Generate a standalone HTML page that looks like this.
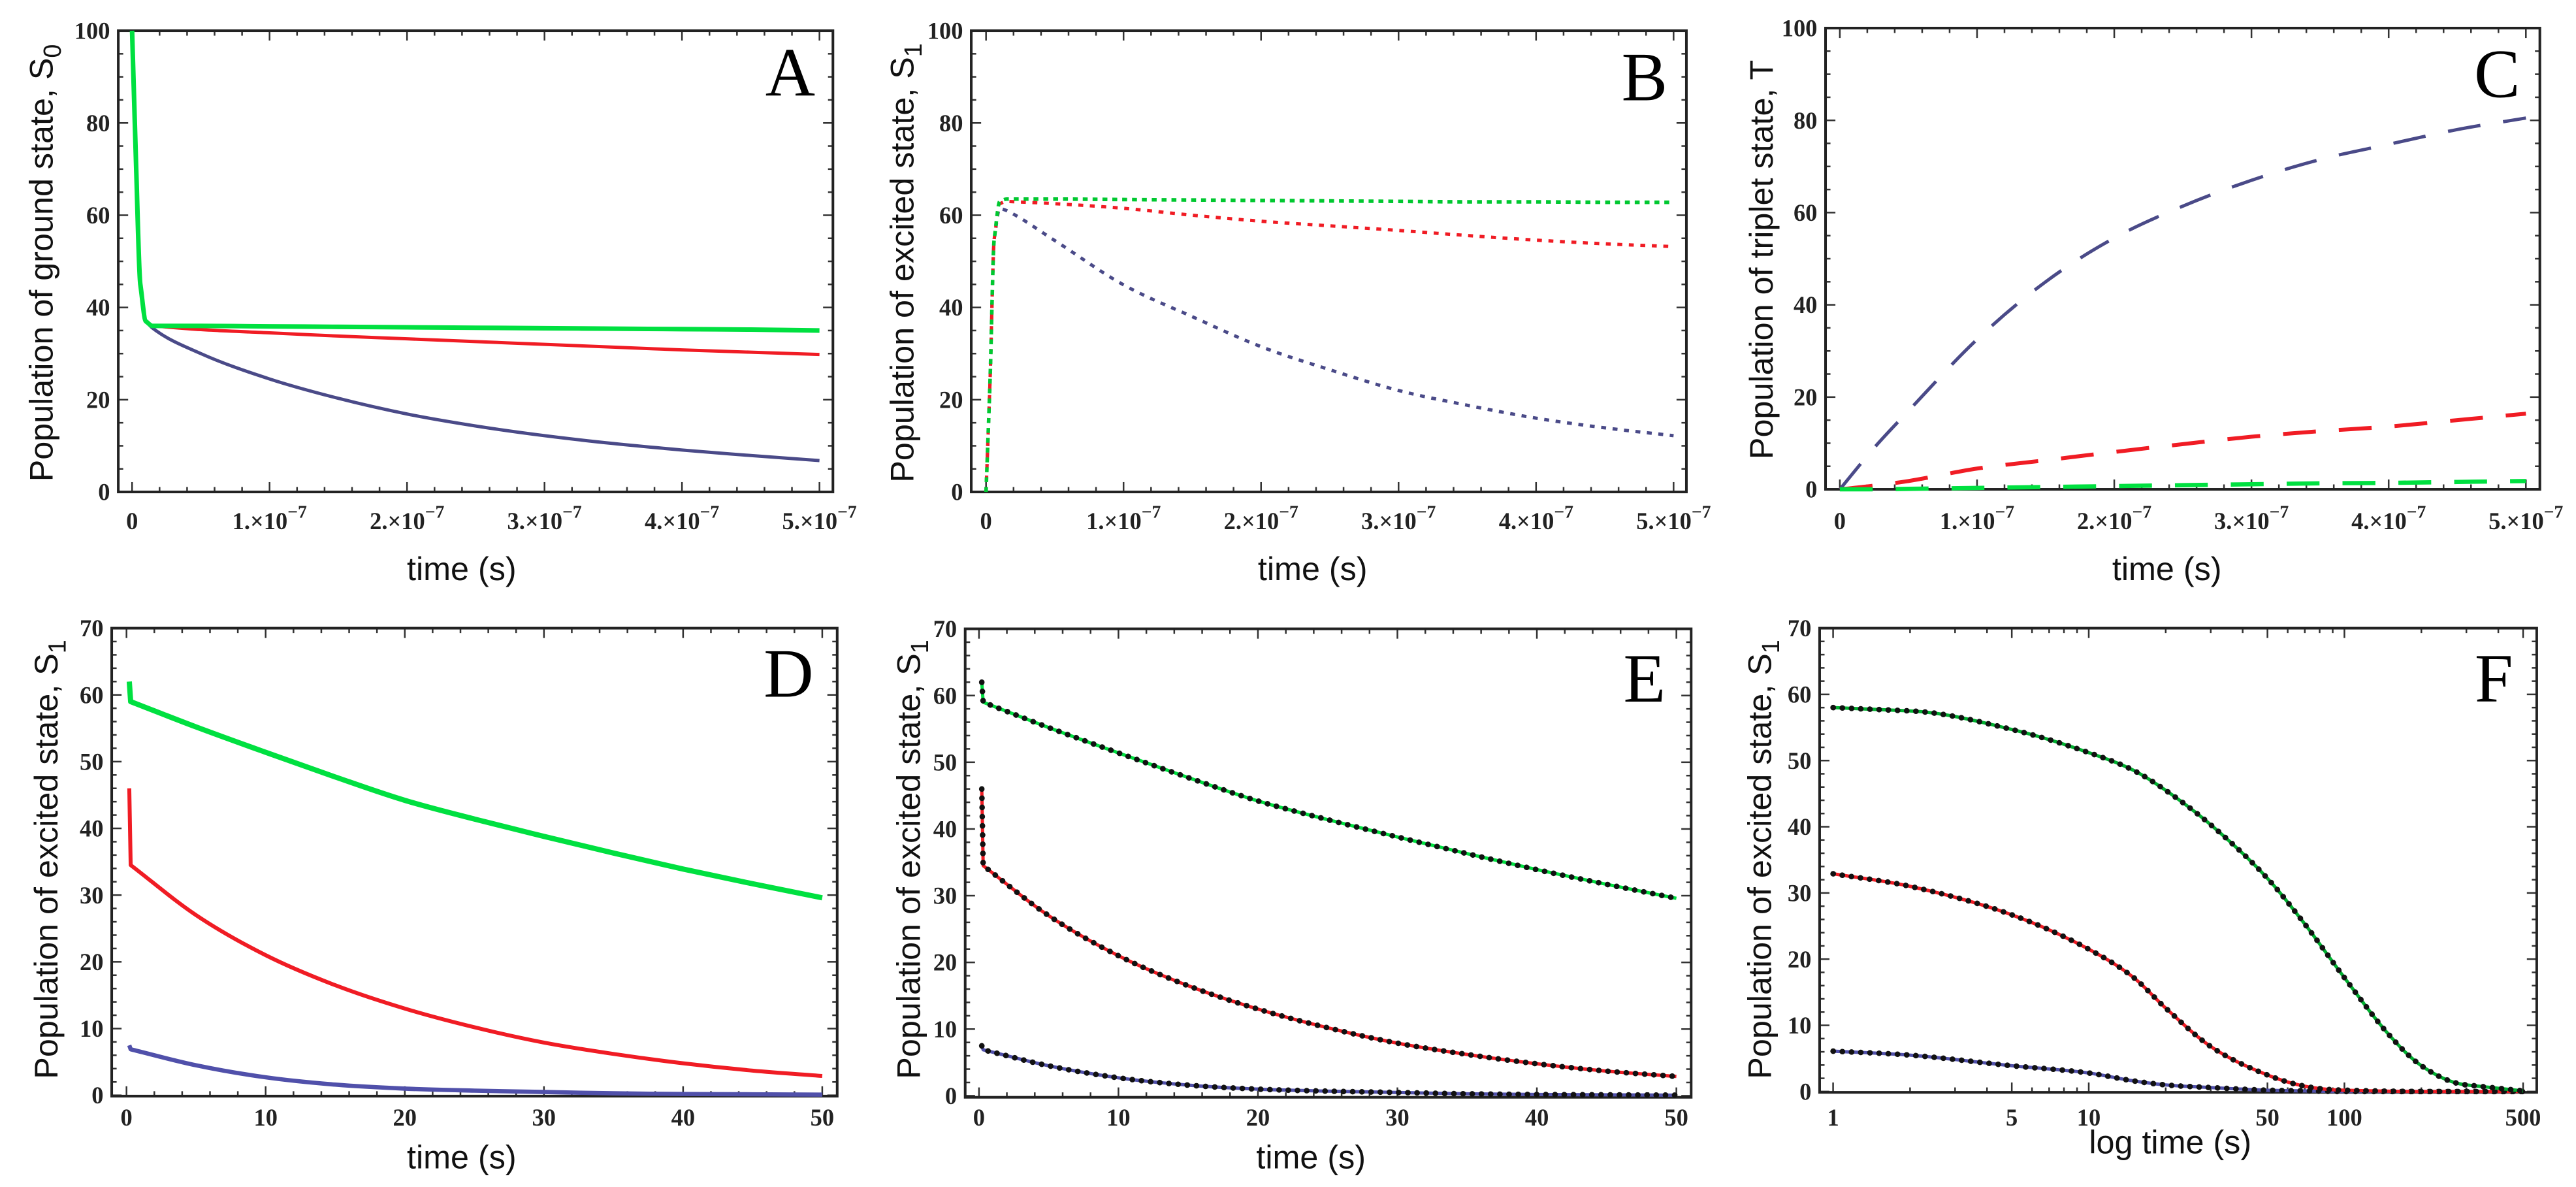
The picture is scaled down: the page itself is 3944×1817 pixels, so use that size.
<!DOCTYPE html>
<html><head><meta charset="utf-8"><style>
html,body{margin:0;padding:0;background:#fff;}
svg{display:block;}
text{font-family:"Liberation Sans",sans-serif;}
.tick{font-family:"Liberation Serif",serif;font-weight:bold;font-size:14.5px;fill:#222;}
.lab{font-size:20px;fill:#111;}
.let{font-family:"Liberation Serif",serif;font-size:42px;fill:#000;}
</style></head><body>
<svg id="fig" width="3944" height="1817" viewBox="0 0 1568 722.4" preserveAspectRatio="none" xmlns="http://www.w3.org/2000/svg"></svg>
<script>
// ---- data (time in units of 1e-7 s for top row) ----
const tA=[0,0.03,0.06,0.1,0.15,0.5,1,1.5,2,2.5,3,3.5,4,4.5,5];
const greenA=[100,70,45,37,36,36,35.9,35.8,35.7,35.6,35.5,35.4,35.3,35.2,35.0];
const redA=[100,70,45,37,36,35.2,34.5,33.8,33.2,32.6,32,31.4,30.8,30.3,29.8];
const blueA=[100,70,45,37,35.5,30,24.5,20.3,16.9,14.3,12.2,10.5,9.1,7.9,6.8];
const tB=[0,0.03,0.06,0.1,0.15,0.5,1,1.5,2,2.5,3,3.5,4,4.5,5];
const greenB=[0,25,55,63,63.5,63.5,63.4,63.3,63.2,63.1,63,62.9,62.9,62.8,62.8];
const redB=[0,25,55,62.5,63,62.5,61.5,60,58.7,57.7,56.7,55.6,54.6,53.8,53.2];
const blueB=[0,25,55,61.5,61,54.5,44.9,38,31.5,26.5,22,18.8,16,13.9,12.2];
const tC=[0,0.25,0.5,1,1.5,2,2.5,3,3.5,4,4.5,5];
const blueC=[0,9,17,32.5,45,54.5,61.4,67,71.5,74.8,78,80.5];
const redC=[0,0.8,1.8,4.5,6.3,8.1,9.8,11.4,12.6,13.6,15,16.4];
const greenC=[0,0,0.1,0.3,0.5,0.7,0.9,1.1,1.3,1.4,1.6,1.8];
const tD=[0.2,0.3,5,10,15,20,25,30,35,40,45,50];
const greenD=[62,59,55.2,51.4,47.7,44.2,41.4,38.8,36.3,33.9,31.7,29.6];
const redD=[46,34.5,27,21,16.5,13,10.2,7.9,6.2,4.8,3.7,2.9];
const blueD=[7.5,6.9,4.5,2.7,1.6,1,0.7,0.5,0.3,0.2,0.15,0.1];
const tE=[0.2,0.3,5,10,15,20,25,30,35,40,45,50];
const greenE=[62,59,55.2,51.4,47.7,44.2,41.4,38.8,36.3,33.9,31.7,29.6];
const redE=[46,34.5,27,21,16.5,13,10.2,7.9,6.2,4.8,3.7,2.9];
const blueE=[7.5,6.9,4.5,2.7,1.6,1,0.7,0.5,0.3,0.2,0.15,0.1];
const tF=[1,2,5,10,15,20,30,50,70,100,150,200,300,500];
const greenF=[58,57.5,54.7,51.2,48.5,45.5,40.3,32.2,25.3,17.2,8.5,3.9,1,0.1];
const redF=[32.9,31,26.7,21.5,17.2,12.6,6.8,2.5,0.8,0.2,0.05,0,0,0];
const blueF=[6.1,5.5,3.9,2.8,1.6,1,0.6,0.2,0.1,0,0,0,0,0];
const topXTicks=[0,1,2,3,4,5];
const topYTicks=[0,20,40,60,80,100];
const botXTicks=[0,10,20,30,40,50];
const botYTicks=[0,10,20,30,40,50,60,70];
const logXTicks=[1,5,10,50,100,500];

const NS="http://www.w3.org/2000/svg";
const svg=document.getElementById('fig');
function mk(tag,attrs,parent){const e=document.createElementNS(NS,tag);for(const k in attrs)e.setAttribute(k,attrs[k]);(parent||svg).appendChild(e);return e;}

const GREEN="#00e040",RED="#f01c24",BLUE="#4a4a88";

function smoothPath(xs,ys){
  const n=xs.length;const d=[],m=new Array(n).fill(0);
  for(let i=0;i<n-1;i++)d.push((ys[i+1]-ys[i])/(xs[i+1]-xs[i]));
  m[0]=d[0];m[n-1]=d[n-2];
  const kink=new Array(n).fill(false);
  for(let i=1;i<n-1;i++){
    const a=Math.abs(d[i-1]),b=Math.abs(d[i]);
    if(a>4*b){m[i]=d[i];kink[i]=true;}
    else if(b>4*a){m[i]=d[i-1];kink[i]=true;}
    else m[i]=(d[i-1]*d[i]<=0)?0:(d[i-1]+d[i])/2;
  }
  for(let i=0;i<n-1;i++){
    if(d[i]===0){m[i]=0;m[i+1]=0;continue;}
    const a=m[i]/d[i],b=m[i+1]/d[i],s=a*a+b*b;
    if(s>9){const t=3/Math.sqrt(s);m[i]=t*a*d[i];m[i+1]=t*b*d[i];}
  }
  let p='M'+xs[0].toFixed(2)+','+ys[0].toFixed(2);
  for(let i=0;i<n-1;i++){const h=xs[i+1]-xs[i];
    const steep=Math.abs(d[i])>4*Math.max(Math.abs(d[i-1]||0),Math.abs(d[i+1]||0));
    if(steep){p+=' L'+xs[i+1].toFixed(2)+','+ys[i+1].toFixed(2);continue;}
    p+=' C'+(xs[i]+h/3).toFixed(2)+','+(ys[i]+m[i]*h/3).toFixed(2)+' '+(xs[i+1]-h/3).toFixed(2)+','+(ys[i+1]-m[i+1]*h/3).toFixed(2)+' '+xs[i+1].toFixed(2)+','+ys[i+1].toFixed(2);}
  return p;
}

function panel(cfg){
  const g=mk('g',{});
  
  
  const X=cfg.log?(v=>cfg.x0+(cfg.x1-cfg.x0)*Math.log10(v)/Math.log10(cfg.xmax)):(v=>cfg.x0+(cfg.x1-cfg.x0)*(v-cfg.xmin)/(cfg.xmax-cfg.xmin));
  const Y=v=>cfg.y0+(cfg.y1-cfg.y0)*v/cfg.ymax;
  const tg=mk('g',{stroke:'#333','stroke-width':1},g);
  
  
  let minorsX=[];
  if(cfg.log){for(let d=1;d<=100;d*=10)for(let k=1;k<10;k++){const v=d*k;if(v<=cfg.xmax)minorsX.push(v);}}
  else{for(let v=cfg.xmin;v<=cfg.xmax+1e-9;v+=cfg.xminor)minorsX.push(v);}
  minorsX.forEach(v=>{const x=X(v);const big=cfg.xticks.some(t=>Math.abs(t-v)<1e-6);const l=big?6:3;
    mk('line',{x1:x,x2:x,y1:cfg.B,y2:cfg.B-l},tg);mk('line',{x1:x,x2:x,y1:cfg.T,y2:cfg.T+l},tg);});
  for(let v=0;v<=cfg.ymax+1e-9;v+=cfg.yminor){const y=Y(v);const big=cfg.yticks.some(t=>Math.abs(t-v)<1e-6);const l=big?6:3;
    mk('line',{x1:cfg.L,x2:cfg.L+l,y1:y,y2:y},tg);mk('line',{x1:cfg.R,x2:cfg.R-l,y1:y,y2:y},tg);}
  const fr=mk('rect',{x:cfg.L,y:cfg.T,width:cfg.R-cfg.L,height:cfg.B-cfg.T,fill:'none',stroke:'#222','stroke-width':1.6},g);
  
  
  cfg.yticks.forEach(v=>{const t=mk('text',{class:'tick',x:cfg.L-5,y:Y(v)+5,'text-anchor':'end'},g);t.textContent=v;
    
    });
  cfg.xticks.forEach(v=>{const t=mk('text',{class:'tick',x:X(v),y:cfg.xlabY,'text-anchor':'middle'},g);
    
    
    if(cfg.sci&&v!==0){t.textContent=v+'.\u00d710';const s=mk('tspan',{dy:-7,'font-size':'11px'},t);s.textContent='\u22127';}
    else t.textContent=v;});
  cfg.series.forEach(s=>{
    const xs=s.t.map(X),ys=s.v.map(Y);
    const dstr=smoothPath(xs,ys);
    const p=mk('path',{d:dstr,fill:'none',stroke:s.c,'stroke-width':s.w||2,'stroke-linejoin':'round'},g);
    if(s.dash)p.setAttribute('stroke-dasharray',s.dash);
    
    
    if(s.dots){const q=mk('path',{d:dstr,fill:'none',stroke:'#111','stroke-width':3.4,'stroke-dasharray':'0.1 5.5','stroke-linecap':'round'},g);
      
      }
  });
  const yl=mk('text',{class:'lab',transform:`translate(${cfg.ylx},${cfg.yly}) rotate(-90)`,'text-anchor':'middle'},g);
  
  
  yl.textContent=cfg.ylabel;
  if(cfg.sub){const s=mk('tspan',{dy:5,'font-size':'15px'},yl);s.textContent=cfg.sub;}
  const xl=mk('text',{class:'lab',x:cfg.xlx,y:cfg.xly,'text-anchor':'middle'},g);
  
  
  xl.textContent=cfg.xlabel;
  const le=mk('text',{class:'let',x:cfg.letX,y:cfg.letY,'text-anchor':'middle'},g);
  
  
  le.textContent=cfg.id;
}

const topCfg={xmin:0,xmax:5,xminor:0.2,ymax:100,yminor:5,xticks:topXTicks,yticks:topYTicks,sci:true,xlabY:322,xly:353,xlabel:'time (s)'};
const botCfg={xmin:0,xmax:50,xminor:2,ymax:70,yminor:2,xticks:botXTicks,yticks:botYTicks,xlabY:685,xly:711,xlabel:'time (s)'};

panel(Object.assign({},topCfg,{id:'A',L:72,R:507,T:18.7,B:299.4,x0:80.4,x1:498.8,y0:299.4,y1:18.7,
  ylx:32,yly:160,ylabel:'Population of ground state, S',sub:'0',xlx:281,letX:481,letY:58,
  series:[{t:tA,v:blueA,c:BLUE,name:'ground-state-blue'},{t:tA,v:redA,c:RED,name:'ground-state-red'},{t:tA,v:greenA,c:GREEN,w:2.8,name:'ground-state-green'}]}));
panel(Object.assign({},topCfg,{id:'B',L:591.2,R:1026.5,T:18.7,B:299.4,x0:600.2,x1:1018.7,y0:299.4,y1:18.7,
  ylx:556,yly:160,ylabel:'Population of excited state, S',sub:'1',xlx:799,letX:1001,letY:61,
  series:[{t:tB,v:blueB,c:BLUE,dash:'3 4',w:2,name:'excited-state-blue'},{t:tB,v:redB,c:RED,dash:'3 4',w:2,name:'excited-state-red'},{t:tB,v:greenB,c:'#00c830',dash:'3 3',w:2.2,name:'excited-state-green'}]}));
panel(Object.assign({},topCfg,{id:'C',L:1111.2,R:1546,T:17.1,B:297.8,x0:1119.9,x1:1537.5,y0:297.8,y1:17.1,
  ylx:1079,yly:158,ylabel:'Population of triplet state, T',xlx:1319,letX:1520,letY:59,
  series:[{t:tC,v:blueC,c:BLUE,dash:'20 14',w:2,name:'triplet-state-blue'},{t:tC,v:redC,c:RED,dash:'20 14',w:2.4,name:'triplet-state-red'},{t:tC,v:greenC,c:GREEN,dash:'20 14',w:2.6,name:'triplet-state-green'}]}));
panel(Object.assign({},botCfg,{id:'D',L:68,R:509.6,T:382.3,B:667.1,x0:77,x1:500.5,y0:666.6,y1:382.3,
  ylx:35,yly:523,ylabel:'Population of excited state, S',sub:'1',xlx:281,letX:480,letY:424,
  series:[{t:tD,v:blueD,c:'#5050aa',w:2.6,name:'decay-blue'},{t:tD,v:redD,c:RED,w:2.4,name:'decay-red'},{t:tD,v:greenD,c:GREEN,w:3.2,name:'decay-green'}]}));
panel(Object.assign({},botCfg,{id:'E',L:587.5,R:1029.4,T:382.7,B:667.8,x0:595.9,x1:1020.4,y0:666.9,y1:382.7,
  ylx:560,yly:523,ylabel:'Population of excited state, S',sub:'1',xlx:798,letX:1001,letY:427,
  series:[{t:tE,v:blueE,c:'#5050aa',dots:true,name:'fit-blue'},{t:tE,v:redE,c:RED,dots:true,name:'fit-red'},{t:tE,v:greenE,c:GREEN,dots:true,name:'fit-green'}]}));
panel({id:'F',log:true,xmax:500,ymax:70,yminor:2,xticks:logXTicks,yticks:botYTicks,xlabY:685,xly:702,xlabel:'log time (s)',
  L:1107.6,R:1544.1,T:382.3,B:664.8,x0:1115.8,x1:1535.8,y0:664.3,y1:382.3,
  ylx:1078,yly:523,ylabel:'Population of excited state, S',sub:'1',xlx:1321,letX:1518,letY:427,
  series:[{t:tF,v:blueF,c:'#5050aa',dots:true,name:'log-fit-blue'},{t:tF,v:redF,c:RED,dots:true,name:'log-fit-red'},{t:tF,v:greenF,c:'#00b030',dots:true,name:'log-fit-green'}]});
</script>
</body></html>
